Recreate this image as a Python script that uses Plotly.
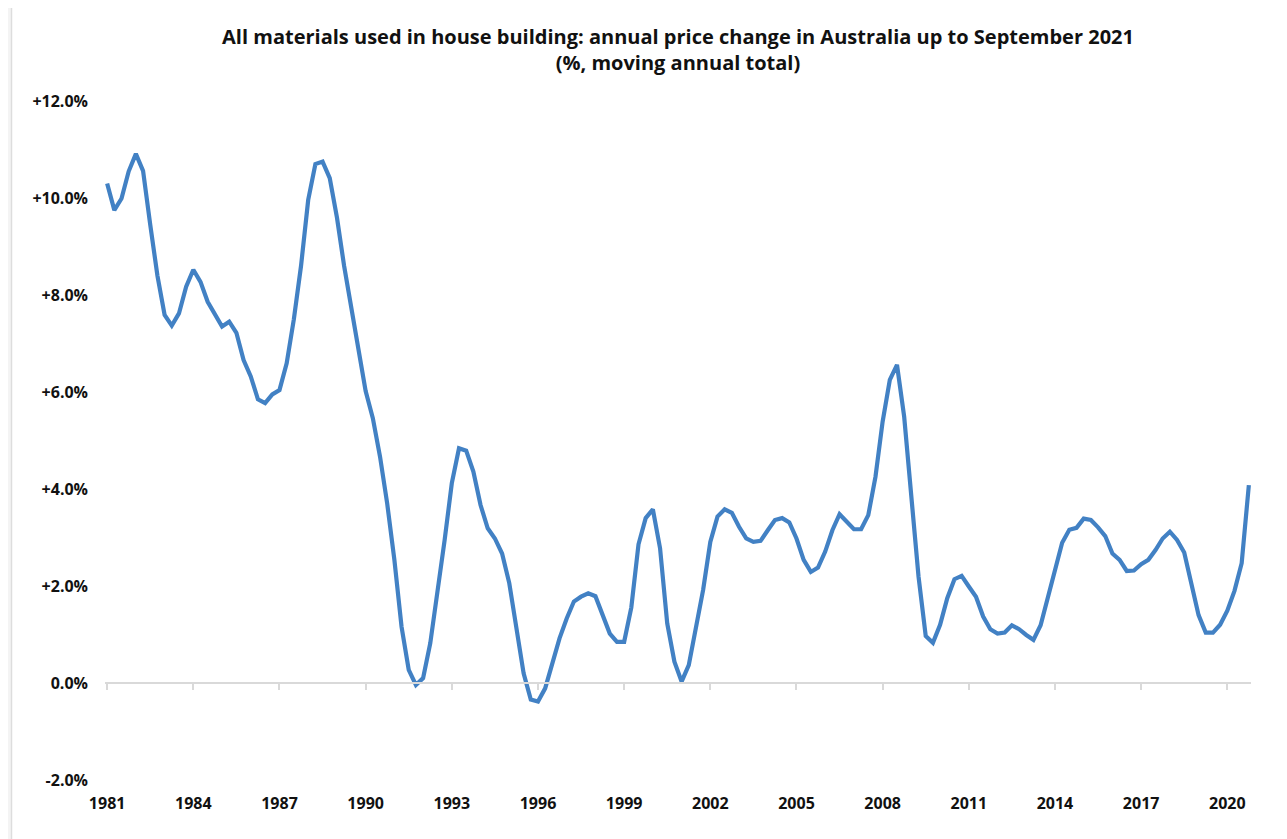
import plotly.graph_objects as go

# Quarterly moving annual % change, Dec-1981 quarter .. Sep-2021 quarter (160 points)
values = [
    10.30, 9.75, 9.99, 10.55, 10.91, 10.56, 9.45, 8.40, 7.59, 7.37,
    7.62, 8.17, 8.52, 8.27, 7.86, 7.62, 7.35, 7.45, 7.22, 6.66,
    6.32, 5.85, 5.77, 5.95, 6.04, 6.59, 7.50, 8.60, 9.96, 10.70,
    10.75, 10.41, 9.60, 8.60, 7.70, 6.85, 6.02, 5.46, 4.67, 3.70,
    2.54, 1.16, 0.27, -0.04, 0.10, 0.82, 1.85, 2.95, 4.12, 4.84,
    4.79, 4.36, 3.67, 3.19, 2.98, 2.67, 2.06, 1.15, 0.20, -0.34,
    -0.38, -0.11, 0.41, 0.92, 1.33, 1.68, 1.78, 1.85, 1.79, 1.40,
    1.02, 0.85, 0.85, 1.56, 2.86, 3.40, 3.58, 2.78, 1.23, 0.44,
    0.03, 0.37, 1.13, 1.92, 2.91, 3.43, 3.58, 3.51, 3.22, 2.98,
    2.91, 2.93, 3.15, 3.36, 3.40, 3.31, 2.98, 2.54, 2.29, 2.38,
    2.71, 3.15, 3.48, 3.33, 3.17, 3.17, 3.46, 4.25, 5.39, 6.25,
    6.56, 5.49, 3.91, 2.19, 0.97, 0.83, 1.20, 1.75, 2.14, 2.21,
    1.99, 1.78, 1.37, 1.11, 1.02, 1.04, 1.19, 1.11, 0.99, 0.89,
    1.19, 1.73, 2.29, 2.89, 3.16, 3.20, 3.39, 3.36, 3.21, 3.03,
    2.67, 2.54, 2.31, 2.32, 2.45, 2.54, 2.74, 2.98, 3.12, 2.95,
    2.69, 2.06, 1.40, 1.04, 1.04, 1.20, 1.49, 1.90, 2.47, 4.08,
]
x_index = list(range(len(values)))

x_tick_positions = list(range(0, 160, 12))
x_tick_labels = ["1981", "1984", "1987", "1990", "1993", "1996", "1999",
                 "2002", "2005", "2008", "2011", "2014", "2017", "2020"]

y_tick_values = [-2, 0, 2, 4, 6, 8, 10, 12]
y_tick_labels = ["-2.0%", "0.0%", "+2.0%", "+4.0%", "+6.0%", "+8.0%", "+10.0%", "+12.0%"]

title_text = ("All materials used in house building: annual price change in Australia up to September 2021"
              "<br>(%, moving annual total)")

FONT = "Open Sans"
Y_MIN, Y_MAX = -2, 12
X_RANGE = [-0.3, 159.3]

# page has an 8px body margin, so figure is offset by 8px
W, H = 1279, 831
ML, MR, MT, MB = 97, 36, 93, 59
PW, PH = W - ML - MR, H - MT - MB

fig = go.Figure()
fig.add_trace(go.Scatter(
    x=x_index, y=values, mode="lines",
    line=dict(color="#4281C4", width=4.2),
    showlegend=False, hoverinfo="x+y",
))
# helper trace so the zero-line axis is drawn
fig.add_trace(go.Scatter(
    x=[x_index[0], x_index[-1]], y=[0, 0], xaxis="x2", mode="lines",
    line=dict(width=0, color="rgba(0,0,0,0)"), showlegend=False, hoverinfo="skip",
))

fig.update_layout(
    width=W, height=H,
    paper_bgcolor="#F4F4F4",
    plot_bgcolor="rgba(0,0,0,0)",
    margin=dict(l=ML, r=MR, t=MT, b=MB),
    font=dict(family=FONT, color="#111111", size=16),
    title=dict(
        text=title_text,
        x=0.5, xref="paper", xanchor="center",
        y=1 - 36 / H, yref="container", yanchor="top",
        font=dict(family=FONT, size=20, color="#111111", weight="bold"),
    ),
    xaxis=dict(
        range=X_RANGE,
        tickmode="array", tickvals=x_tick_positions, ticktext=x_tick_labels,
        showgrid=False, zeroline=False, showline=False, ticks="",
        ticklabelstandoff=12,
        tickfont=dict(family=FONT, size=16, color="#111111", weight="bold"),
    ),
    xaxis2=dict(
        range=X_RANGE, overlaying="x", anchor="free",
        position=(0 - Y_MIN) / (Y_MAX - Y_MIN),
        tickmode="array", tickvals=x_tick_positions,
        showticklabels=False, showgrid=False, zeroline=False,
        showline=True, linecolor="#D9D9D9", linewidth=1.5,
        ticks="outside", ticklen=6, tickcolor="#D9D9D9", tickwidth=1.5,
    ),
    yaxis=dict(
        range=[Y_MIN, Y_MAX],
        tickmode="array", tickvals=y_tick_values, ticktext=y_tick_labels,
        showgrid=False, zeroline=False, showline=False, ticks="",
        ticklabelstandoff=16,
        tickfont=dict(family=FONT, size=16, color="#111111", weight="bold"),
    ),
    shapes=[dict(
        type="rect", xref="paper", yref="paper", layer="below",
        x0=(3.5 - ML) / PW, x1=(1277.5 - ML) / PW,
        y0=-0.2, y1=(H - MB + 2) / PH,
        fillcolor="white", line=dict(color="#DDDDDD", width=1.5),
    )],
)

fig.write_html("out.html")
